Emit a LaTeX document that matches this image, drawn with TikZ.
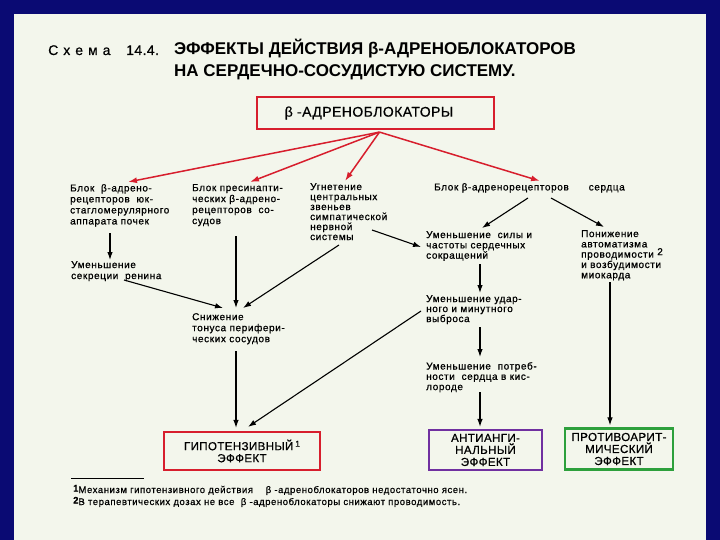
\documentclass[tikz,border=0pt]{standalone}
\usepackage{fontspec}
\setmainfont{Liberation Sans}
\newfontfamily\fnfont[LetterSpace=6,FakeBold=0.6]{Liberation Sans}
\newfontfamily\bodyfont[LetterSpace=6,FakeBold=0.8]{Liberation Sans}
\newfontfamily\boxfont[LetterSpace=3,FakeBold=0.6]{Liberation Sans}
\usetikzlibrary{arrows.meta,calc}
\definecolor{navy}{RGB}{10,10,115}
\definecolor{paper}{RGB}{243,246,236}
\definecolor{boxred}{RGB}{215,30,45}
\definecolor{boxpurple}{RGB}{112,48,160}
\definecolor{boxgreen}{RGB}{45,160,60}
\tikzset{
  txt/.style={inner sep=0pt, anchor=north west, align=left, font=\bodyfont\fontsize{10}{11}\selectfont},
  effbox/.style={draw, line width=2.2pt, fill=paper, inner sep=0pt, align=center, font=\boxfont\fontsize{11.6}{12}\selectfont},
  arr/.style={-{Latex[length=8pt,width=5.5pt]}, line width=1.1pt},
  redarr/.style={-{Latex[length=9pt,width=6pt]}, line width=1.5pt, draw=boxred, color=boxred},
  fn/.style={inner sep=0pt, anchor=base west, font=\fnfont\fontsize{9.5}{10}\selectfont},
  ttl/.style={inner sep=0pt, anchor=base west}
}
\begin{document}
\begin{tikzpicture}[x=1pt,y=-1pt]
\useasboundingbox (0,0) rectangle (720,540);
\fill[navy] (0,0) rectangle (720,540);
\fill[paper] (14,14) rectangle (706,540);

% title
\node[ttl, font=\boxfont\fontsize{14}{15}\selectfont] (sch) at (48,55) {С\hspace{5pt}х\hspace{5pt}е\hspace{5pt}м\hspace{5pt}а};
\node[ttl, font=\boxfont\fontsize{14}{15}\selectfont] (num) at (126,55) {14.4.};
\node[ttl, font=\fontsize{17}{18}\selectfont\bfseries] (h1) at (174,55) {ЭФФЕКТЫ ДЕЙСТВИЯ β-АДРЕНОБЛОКАТОРОВ};
\node[ttl, font=\fontsize{17}{18}\selectfont\bfseries] (h2) at (174,77) {НА СЕРДЕЧНО-СОСУДИСТУЮ СИСТЕМУ.};

% top box
\node[draw=boxred, line width=2.2pt, fill=paper, inner sep=0pt, minimum width=237pt, minimum height=32pt, font=\boxfont\fontsize{14}{15}\selectfont] (top) at (375.5,113) {β -АДРЕНОБЛОКАТОРЫ\hspace*{13pt}};

% first row
\node[txt] (A) at (70,184) {Блок \ β-адрено-\\рецепторов \ юк-\\стагломерулярного\\аппарата почек};
\node[txt] (B) at (192,184) {Блок пресинапти-\\ческих β-адрено-\\рецепторов \ со-\\судов};
\node[txt, font=\bodyfont\fontsize{10}{10}\selectfont] (C) at (310,183) {Угнетение\\центральных\\звеньев\\симпатической\\нервной\\системы};
\node[txt] (D) at (434,183) {Блок β-адренорецепторов\hspace{20pt}сердца};

% second level
\node[txt] (R) at (71,261) {Уменьшение\\секреции \ ренина};
\node[txt] (S) at (192,313) {Снижение\\тонуса перифери-\\ческих сосудов};
\node[txt, font=\bodyfont\fontsize{10}{10.3}\selectfont] (F) at (426,231) {Уменьшение \ силы и\\частоты сердечных\\сокращений};
\node[txt, font=\bodyfont\fontsize{10}{10.3}\selectfont] (P) at (581,230) {Понижение\\автоматизма\\проводимости \raisebox{2.5pt}{\fontsize{10}{10}\selectfont 2}\\и возбудимости\\миокарда};
\node[txt, font=\bodyfont\fontsize{10}{10}\selectfont] (U) at (426,295) {Уменьшение удар-\\ного и минутного\\выброса};
\node[txt, font=\bodyfont\fontsize{10}{10.3}\selectfont] (O) at (426,362) {Уменьшение \ потреб-\\ности \ сердца в кис-\\лороде};

% effect boxes
\node[effbox, draw=boxred, minimum width=156pt, minimum height=38pt] (H) at (242,451) {ГИПОТЕНЗИВНЫЙ\,\raisebox{3.5pt}{\fontsize{8.5}{8}\selectfont 1}\\ЭФФЕКТ};
\node[effbox, draw=boxpurple, minimum width=113pt, minimum height=40pt] (K) at (485.5,450) {АНТИАНГИ-\\НАЛЬНЫЙ\\ЭФФЕКТ};
\node[effbox, draw=boxgreen, minimum width=108pt, minimum height=41pt] (G) at (619,449) {ПРОТИВОАРИТ-\\МИЧЕСКИЙ\\ЭФФЕКТ};

% red arrows
\draw[redarr] ($(top.south)+(4,2)$) -- ($(A.north west)+(58,-2)$);
\draw[redarr] ($(top.south)+(4,2)$) -- ($(B.north west)+(58,-2)$);
\draw[redarr] ($(top.south)+(4,2)$) -- ($(C.north west)+(35,-2)$);
\draw[redarr] ($(top.south)+(4,2)$) -- ($(D.north west)+(106,-2)$);

% black arrows
\draw[arr] ($(A.north west)+(40,49)$) -- ($(R.north west)+(39,-1)$);
\draw[arr] ($(R.north west)+(53,19)$) -- ($(S.north west)+(31,-5)$);
\draw[arr] ($(B.north west)+(44,52)$) -- ($(S.north west)+(44,-5)$);
\draw[arr] ($(C.north west)+(29,62)$) -- ($(S.north west)+(51,-5)$);
\draw[arr] ($(C.north west)+(62,47)$) -- ($(F.north west)+(-5,16)$);
\draw[arr] ($(D.north west)+(94,15)$) -- ($(F.north west)+(56,-3)$);
\draw[arr] ($(D.north west)+(117,15)$) -- ($(P.north west)+(23,-3)$);
\draw[arr] ($(F.north west)+(54,33)$) -- ($(U.north west)+(54,-2)$);
\draw[arr] ($(U.north west)+(54,32)$) -- ($(O.north west)+(54,-5)$);
\draw[arr] ($(O.north west)+(54,30)$) -- ($(K.north)+(-5.5,-2)$);
\draw[arr] ($(P.north west)+(29,52)$) -- ($(G.north)+(-9,-2)$);
\draw[arr] ($(S.north west)+(44,38)$) -- ($(H.north)+(-6,-3)$);
\draw[arr] ($(U.north west)+(-5,16)$) -- ($(H.north)+(6,-4)$);

% footnotes
\draw[line width=1pt] (71,478) -- (144,478);
\node[fn] (f1) at (73,493) {\raisebox{1.5pt}{\fontsize{9.5}{9}\selectfont\bfseries 1}Механизм гипотензивного действия \quad β -адреноблокаторов недостаточно ясен.};
\node[fn] (f2) at (73,505) {\raisebox{1.5pt}{\fontsize{9.5}{9}\selectfont\bfseries 2}В терапевтических дозах не все \ β -адреноблокаторы снижают проводимость.};
\end{tikzpicture}
\end{document}
